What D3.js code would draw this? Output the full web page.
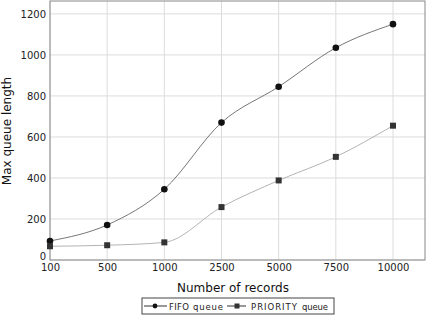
<!DOCTYPE html>
<html>
<head>
<meta charset="utf-8">
<script src="https://cdn.jsdelivr.net/npm/d3@7"></script>
<style>
  body { margin: 0; background: #fff; }
  text { font-family: "DejaVu Sans", sans-serif; }
</style>
</head>
<body>
<div id="chart"></div>
<script>
//////////////////////////// data /////////////////////////////////////////

const records = ["100", "500", "1000", "2500", "5000", "7500", "10000"];
const fifoQueue = [93, 171, 345, 670, 845, 1035, 1150];
const priorityQueue = [67, 72, 86, 258, 388, 503, 655];
const yTicks = [0, 200, 400, 600, 800, 1000, 1200];

//////////////////////////// sizes ////////////////////////////////////////

const dimensions = {
  width: 427,
  height: 318,
  margin: { top: 1, right: 2, bottom: 58, left: 50 }
};
dimensions.boundedWidth = dimensions.width - dimensions.margin.left - dimensions.margin.right;
dimensions.boundedHeight = dimensions.height - dimensions.margin.top - dimensions.margin.bottom;

const svg = d3.select("#chart").append("svg")
  .attr("width", dimensions.width)
  .attr("height", dimensions.height);

const bounds = svg.append("g")
  .attr("transform", `translate(${dimensions.margin.left},${dimensions.margin.top})`);

//////////////////////////// scales ///////////////////////////////////////

const xScale = d3.scalePoint()
  .domain(records)
  .range([0, 343]);

const yScale = d3.scaleLinear()
  .domain([0, 1263])
  .range([dimensions.boundedHeight, 0]);

//////////////////////////// grid /////////////////////////////////////////

bounds.append("g")
  .selectAll("line")
  .data(records)
  .join("line")
  .attr("x1", d => xScale(d))
  .attr("x2", d => xScale(d))
  .attr("y1", 0)
  .attr("y2", dimensions.boundedHeight)
  .attr("stroke", "#dcdcdc");

bounds.append("g")
  .selectAll("line")
  .data(yTicks)
  .join("line")
  .attr("x1", 0)
  .attr("x2", dimensions.boundedWidth)
  .attr("y1", d => yScale(d))
  .attr("y2", d => yScale(d))
  .attr("stroke", "#dcdcdc");

// frame
bounds.append("rect")
  .attr("width", dimensions.boundedWidth)
  .attr("height", dimensions.boundedHeight)
  .attr("fill", "none")
  .attr("stroke", "#888");

//////////////////////////// axes /////////////////////////////////////////

const xAxis = bounds.append("g")
  .attr("transform", `translate(0,${dimensions.boundedHeight})`)
  .call(d3.axisBottom(xScale).tickSize(0).tickPadding(4));
xAxis.select(".domain").remove();
xAxis.selectAll("text").attr("font-size", 10).attr("fill", "#222")
  .attr("font-family", "DejaVu Sans");

const yAxis = bounds.append("g")
  .call(d3.axisLeft(yScale).tickValues(yTicks).tickFormat(d3.format("d")).tickSize(0).tickPadding(4));
yAxis.select(".domain").remove();
yAxis.selectAll("text").attr("font-size", 10).attr("fill", "#222")
  .attr("font-family", "DejaVu Sans")
  .attr("dy", d => d === 0 ? "-0.05em" : "0.32em");

// axis titles
svg.append("text")
  .attr("x", dimensions.margin.left + 183)
  .attr("y", 292)
  .attr("text-anchor", "middle")
  .attr("font-size", 12)
  .attr("fill", "#111")
  .text("Number of records");

svg.append("text")
  .attr("transform", `translate(11,${dimensions.margin.top + 130}) rotate(-90)`)
  .attr("text-anchor", "middle")
  .attr("font-size", 12)
  .attr("fill", "#111")
  .text("Max queue length");

//////////////////////////// lines ////////////////////////////////////////

const series = [
  { name: "FIFO", values: fifoQueue, stroke: "#666", mark: "circle" },
  { name: "PRIORITY", values: priorityQueue, stroke: "#aaa", mark: "square" }
];

const lineGen = d3.line()
  .x((d, i) => xScale(records[i]))
  .y(d => yScale(d))
  .curve(d3.curveMonotoneX);

series.forEach(s => {
  bounds.append("path")
    .attr("d", lineGen(s.values))
    .attr("fill", "none")
    .attr("stroke", s.stroke)
    .attr("stroke-width", 0.9);

  if (s.mark === "circle") {
    bounds.append("g").selectAll("circle")
      .data(s.values)
      .join("circle")
      .attr("cx", (d, i) => xScale(records[i]))
      .attr("cy", d => yScale(d))
      .attr("r", 3.3)
      .attr("fill", "#111");
  } else {
    bounds.append("g").selectAll("rect")
      .data(s.values)
      .join("rect")
      .attr("x", (d, i) => xScale(records[i]) - 3)
      .attr("y", d => yScale(d) - 3)
      .attr("width", 6)
      .attr("height", 6)
      .attr("fill", "#333");
  }
});

//////////////////////////// legend ///////////////////////////////////////

const legend = svg.append("g").attr("transform", "translate(142,298)");
legend.append("rect")
  .attr("width", 192)
  .attr("height", 16)
  .attr("fill", "#fff")
  .attr("stroke", "#444");

const legendText = (x, w, txt, size) =>
  legend.append("text")
    .attr("x", x).attr("y", 11.5)
    .attr("font-size", size)
    .attr("fill", "#222")
    .attr("textLength", w)
    .attr("lengthAdjust", "spacing")
    .text(txt);

// FIFO entry
legend.append("line").attr("x1", 2).attr("x2", 25).attr("y1", 8).attr("y2", 8)
  .attr("stroke", "#333");
legend.append("circle").attr("cx", 13).attr("cy", 8).attr("r", 2.4).attr("fill", "#111");
legendText(27, 20, "FIFO", 8.5);
legendText(51, 30, "queue", 8.5);

// PRIORITY entry
legend.append("line").attr("x1", 85).attr("x2", 104).attr("y1", 8).attr("y2", 8)
  .attr("stroke", "#333");
legend.append("rect").attr("x", 92.5).attr("y", 5.5).attr("width", 5).attr("height", 5).attr("fill", "#333");
legendText(109, 46, "PRIORITY", 8.5);
legendText(160, 26, "queue", 8.5);
</script>
</body>
</html>
